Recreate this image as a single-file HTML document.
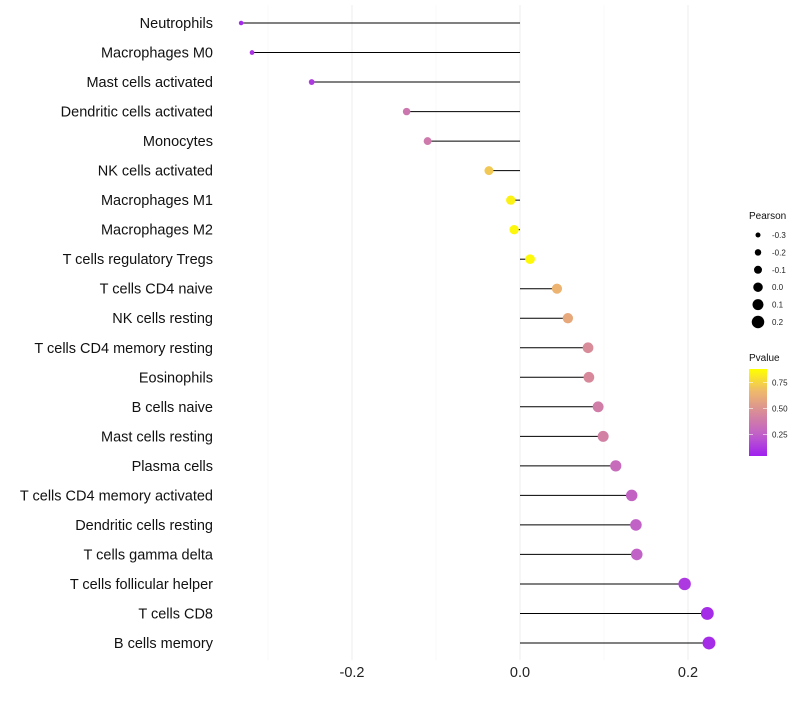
<!DOCTYPE html>
<html><head><meta charset="utf-8"><style>
body{margin:0;background:#fff;font-family:"Liberation Sans",sans-serif}
</style></head><body>
<svg id="chart" width="800" height="700" xmlns="http://www.w3.org/2000/svg">
<defs><linearGradient id="pg" x1="0" y1="1" x2="0" y2="0">
<stop offset="0" stop-color="#A020F0"/><stop offset="0.25" stop-color="#C060C8"/><stop offset="0.5" stop-color="#D88B99"/><stop offset="0.75" stop-color="#EFBA6A"/><stop offset="1" stop-color="#FFFF00"/></linearGradient></defs>
<g id="grid"></g><g id="marks"></g><g id="labels"></g><g id="legend"></g>
</svg>
<script>
const categories=["Neutrophils","Macrophages M0","Mast cells activated","Dendritic cells activated","Monocytes","NK cells activated","Macrophages M1","Macrophages M2","T cells regulatory  Tregs ","T cells CD4 naive","NK cells resting","T cells CD4 memory resting","Eosinophils","B cells naive","Mast cells resting","Plasma cells","T cells CD4 memory activated","Dendritic cells resting","T cells gamma delta","T cells follicular helper","T cells CD8","B cells memory"];
const pearson=[-0.332,-0.319,-0.248,-0.135,-0.110,-0.037,-0.011,-0.007,0.012,0.044,0.057,0.081,0.082,0.093,0.099,0.114,0.133,0.138,0.139,0.196,0.223,0.225];
const pvalue=[0.04,0.07,0.10,0.38,0.40,0.80,0.95,0.97,0.98,0.72,0.66,0.50,0.49,0.42,0.44,0.32,0.27,0.26,0.26,0.10,0.05,0.05];
const xTicks=[-0.2,0,0.2];
const xTickLabels=["-0.2","0.0","0.2"];
const xMinor=[-0.3,-0.1,0.1];
const sizeLegend=[-0.3,-0.2,-0.1,0.0,0.1,0.2];
const sizeLegendLabels=["-0.3","-0.2","-0.1","0.0","0.1","0.2"];
const pLegend=[0.25,0.5,0.75];
const pLegendLabels=["0.25","0.50","0.75"];
const NS="http://www.w3.org/2000/svg";
const x=v=>520+v*840;
const y=i=>23+i*(620/21);
const r=v=>2.2+(v+0.34)*7.5;
const lp=p=>456-(p-0.04)*(92/0.89);
function colP(p){const s=[[0,[160,32,240]],[0.25,[192,96,200]],[0.5,[216,139,153]],[0.75,[239,186,106]],[1,[255,255,0]]];
for(let k=1;k<s.length;k++){if(p<=s[k][0]){const t=(p-s[k-1][0])/(s[k][0]-s[k-1][0]);const c=s[k-1][1].map((a,j)=>Math.round(a+(s[k][1][j]-a)*t));return `rgb(${c})`;}}return "rgb(255,255,0)";}
function mk(tag,attrs,parent,text){const e=document.createElementNS(NS,tag);for(const k in attrs)e.setAttribute(k,attrs[k]);if(text!==undefined)e.textContent=text;document.getElementById(parent).appendChild(e);return e;}
xMinor.forEach(v=>{const e=mk("line",{x1:x(v),x2:x(v),y1:5,y2:660,stroke:"#f5f5f5","stroke-width":0.6},"grid");

});
xTicks.forEach((v,i)=>{const e=mk("line",{x1:x(v),x2:x(v),y1:5,y2:660,stroke:"#efefef","stroke-width":1.1},"grid");


const t=mk("text",{x:x(v),y:677,"text-anchor":"middle","font-size":14.5,fill:"#222"},"labels",xTickLabels[i]);

});
categories.forEach((c,i)=>{
const t=mk("text",{x:213,y:y(i)+5,"text-anchor":"end","font-size":14.5,fill:"#111"},"labels",c);


const l=mk("line",{x1:x(0),x2:x(pearson[i]),y1:y(i),y2:y(i),stroke:"#000","stroke-width":1},"marks");


const d=mk("circle",{cx:x(pearson[i]),cy:y(i),r:r(pearson[i]),fill:colP(pvalue[i])},"marks");

});
let t=mk("text",{x:749,y:219,"font-size":10,fill:"#111"},"legend","Pearson");


sizeLegend.forEach((v,i)=>{const cy=235+i*17.4;
const c=mk("circle",{cx:758,cy:cy,r:r(v),fill:"#000"},"legend");


const tt=mk("text",{x:772,y:cy+3,"font-size":8,fill:"#222"},"legend",sizeLegendLabels[i]);

});
t=mk("text",{x:749,y:361,"font-size":10,fill:"#111"},"legend","Pvalue");


const bar=mk("rect",{x:749,y:369,width:18,height:87,fill:"url(#pg)"},"legend");


pLegend.forEach((p,i)=>{const yy=lp(p);
mk("line",{x1:749,x2:753,y1:yy,y2:yy,stroke:"#fff","stroke-width":0.6},"legend");
mk("line",{x1:763,x2:767,y1:yy,y2:yy,stroke:"#fff","stroke-width":0.6},"legend");
const tt=mk("text",{x:772,y:yy+3,"font-size":8,fill:"#222"},"legend",pLegendLabels[i]);

});
</script>
</body></html>
